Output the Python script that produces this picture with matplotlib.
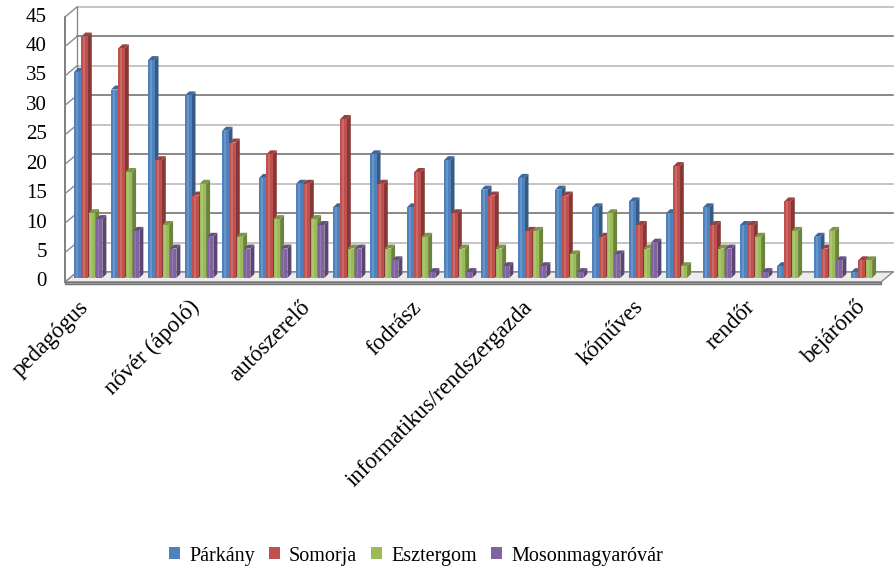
import matplotlib.pyplot as plt
from matplotlib.patches import Polygon, Rectangle, Patch
from matplotlib.colors import to_rgb

plt.rcParams['font.family'] = ['Liberation Serif', 'DejaVu Serif']

# Data: 22 professions, only every third one is labelled on the axis
tick_labels = ['pedagógus', 'nővér (ápoló)', 'autószerelő', 'fodrász',
               'informatikus/rendszergazda', 'kőműves', 'rendőr', 'bejárónő']
label_step = 3
series_names = ['Párkány', 'Somorja', 'Esztergom', 'Mosonmagyaróvár']
parkany = [35, 32, 37, 31, 25, 17, 16, 12, 21, 12, 20, 15, 17, 15, 12, 13, 11, 12, 9, 2, 7, 1]
somorja = [41, 39, 20, 14, 23, 21, 16, 27, 16, 18, 11, 14, 8, 14, 7, 9, 19, 9, 9, 13, 5, 3]
esztergom = [11, 18, 9, 16, 7, 10, 10, 5, 5, 7, 5, 5, 8, 4, 11, 5, 2, 5, 7, 8, 8, 3]
moson = [10, 8, 5, 7, 5, 5, 9, 5, 3, 1, 1, 2, 2, 1, 4, 6, 0, 5, 1, 0, 3, 0]
yticks = [0, 5, 10, 15, 20, 25, 30, 35, 40, 45]

colors = ['#4F81BD', '#C0504D', '#9BBB59', '#8064A2']
series = [parkany, somorja, esztergom, moson]

W, H = 894, 567
fig = plt.figure(figsize=(W / 100, H / 100), dpi=100)

# axes = back wall of the pseudo-3D box (pixel box 77..893 x 7..272)
left_px, right_px, top_px, bot_px = 77, 893, 7, 272
ax = fig.add_axes([left_px / W, 1 - bot_px / H, (right_px - left_px) / W, (bot_px - top_px) / H])
ax.axis('off')
xl, xr = -0.476, -0.476 + (right_px - left_px) / 37.0
ax.set_xlim(xl, xr)
ax.set_ylim(0, 45)
ux = (xr - xl) / (right_px - left_px)   # data units per pixel
uy = 45.0 / (bot_px - top_px)

# wall offset of the front edge
wdx, wdy = -12 * ux, -10 * uy

# back wall gridlines
for v in yticks:
    c = '#6a6a6a' if v % 10 == 0 else '#b4b4b4'
    ax.plot([xl, xr], [v, v], color=c, lw=1.1, clip_on=False, zorder=1)

# left wall
ax.plot([xl, xl], [0, 45], color='#8a8a8a', lw=1, clip_on=False, zorder=1)
ax.plot([xl + wdx, xl + wdx], [wdy, 45 + wdy], color='#6a6a6a', lw=1.2, clip_on=False, zorder=1)
for v in yticks:
    ax.plot([xl + wdx, xl], [v + wdy, v], color='#8a8a8a', lw=1, clip_on=False, zorder=1)
    ax.text(xl + wdx - 18 * ux, v + wdy, str(v), ha='right', va='center',
            fontsize=15, color='black')

# floor
floor = Polygon([(xl, 0), (xr, 0), (xr + wdx, wdy), (xl + wdx, wdy)], closed=True,
                facecolor='#ececec', edgecolor='#8a8a8a', lw=1, clip_on=False, zorder=2)
ax.add_patch(floor)
slab = Polygon([(xl + wdx, wdy), (xr + wdx, wdy), (xr + wdx, wdy - 2 * uy), (xl + wdx, wdy - 2 * uy)],
               closed=True, facecolor='#bdbdbd', edgecolor='#707070', lw=1, clip_on=False, zorder=2)
ax.add_patch(slab)


def shade(c, f):
    r, g, b = to_rgb(c)
    if f < 1:
        return (r * f, g * f, b * f)
    return (r + (1 - r) * (f - 1), g + (1 - g) * (f - 1), b + (1 - b) * (f - 1))


# bars: front face shifted forward, small depth for side and top faces
pitch, bw = 0.197, 0.175
fdx, fdy = -6 * ux, -6 * uy
ddx, ddy = 4 * ux, 4 * uy
n = len(parkany)
for i in range(n):
    for j, vals in enumerate(series):
        v = vals[i]
        if v <= 0:
            continue
        x0 = i + (j - 2) * pitch + fdx
        yb, yt = fdy, v + fdy
        c = colors[j]
        side = Polygon([(x0 + bw, yb), (x0 + bw, yt), (x0 + bw + ddx, yt + ddy), (x0 + bw + ddx, yb + ddy)],
                       closed=True, facecolor=shade(c, 0.7), edgecolor='none', clip_on=False, zorder=3)
        top = Polygon([(x0, yt), (x0 + bw, yt), (x0 + bw + ddx, yt + ddy), (x0 + ddx, yt + ddy)],
                      closed=True, facecolor=shade(c, 0.8), edgecolor='none', clip_on=False, zorder=3)
        front = Rectangle((x0, yb), bw, v, facecolor=c, edgecolor='none', clip_on=False, zorder=3)
        hi = Rectangle((x0 + bw * 0.25, yb), bw * 0.3, v, facecolor=shade(c, 1.15),
                       edgecolor='none', clip_on=False, zorder=3)
        ax.add_patch(side)
        ax.add_patch(top)
        ax.add_patch(front)
        ax.add_patch(hi)

# category labels
for k, lab in enumerate(tick_labels):
    i = k * label_step
    ax.text(i + fdx - 3 * ux, -32 * uy, lab, rotation=45, rotation_mode='anchor',
            ha='right', va='center', fontsize=16.5, color='black')

handles = [Patch(facecolor=c, edgecolor='none') for c in colors]
fig.legend(handles, series_names, loc='center', bbox_to_anchor=(416 / W, 1 - 556 / H), ncol=4,
           frameon=False, fontsize=14.5, handlelength=0.55, handleheight=0.55,
           handletextpad=0.45, columnspacing=0.7, borderpad=0)

fig.savefig('out.png', dpi=100)
